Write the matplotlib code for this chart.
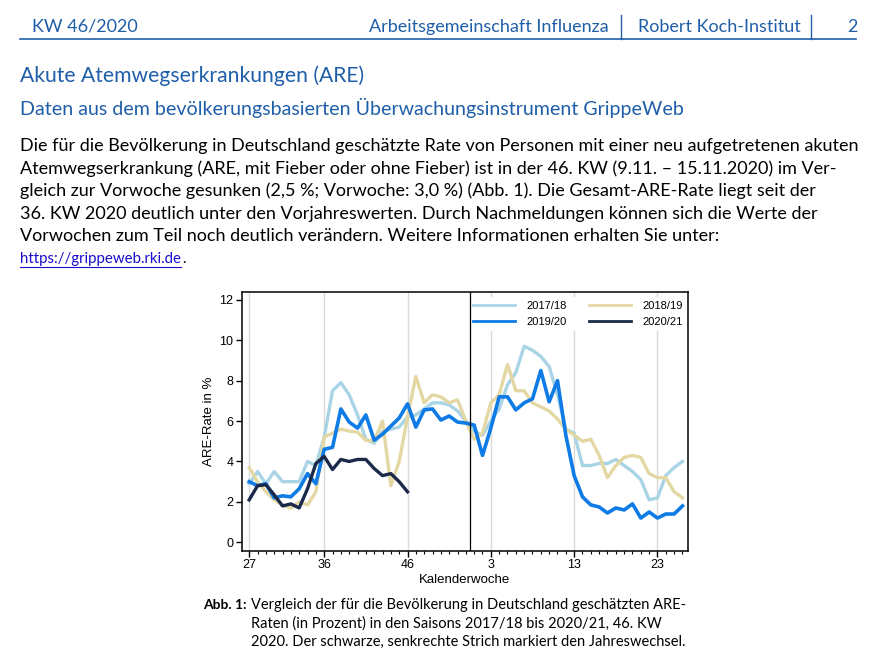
import numpy as np
import matplotlib.pyplot as plt
from matplotlib.ticker import FixedLocator, MultipleLocator

# Kalenderwochen 27 .. 53, 1 .. 26
weeks = list(range(27, 54)) + list(range(1, 27))
tick_weeks = [27, 36, 46, 3, 13, 23]

s1718 = [2.9, 3.5, 2.9, 3.5, 3.0, 3.0, 3.0, 4.0, 3.8, 5.2, 7.5, 7.9, 7.3, 6.3, 5.1,
         4.9, 5.5, 5.6, 5.7, 6.2, 6.3, 6.6, 6.9, 6.9, 6.8, 6.5, 6.0, 5.5, 5.3, 6.0,
         6.6, 7.8, 8.4, 9.7, 9.5, 9.2, 8.7, 7.3, 5.6, 5.4, 3.8, 3.8, 3.9, 3.9, 4.1,
         3.8, 3.5, 3.1, 2.1, 2.2, 3.3, 3.7, 4.0]
s1819 = [3.7, 3.0, 2.5, 2.1, 1.85, 1.7, 2.0, 1.85, 2.5, 5.2, 5.4, 5.6, 5.5, 5.45, 5.05,
         5.0, 6.0, 2.8, 4.0, 6.2, 8.2, 6.9, 7.3, 7.2, 6.9, 7.05, 6.0, 5.1, 5.4, 6.9,
         7.3, 8.8, 7.5, 7.5, 6.9, 6.7, 6.5, 6.1, 5.6, 5.3, 5.0, 5.1, 4.3, 3.2, 3.8,
         4.2, 4.3, 4.2, 3.4, 3.2, 3.2, 2.5, 2.2]
s1920 = [3.0, 2.8, 2.9, 2.2, 2.3, 2.25, 2.65, 3.4, 2.9, 4.6, 4.7, 6.6, 5.95, 5.65, 6.3,
         5.05, 5.35, 5.75, 6.15, 6.85, 5.7, 6.55, 6.6, 6.05, 6.25, 5.95, 5.9, 5.8, 4.3, 5.65,
         7.2, 7.2, 6.55, 6.9, 7.1, 8.5, 6.95, 8.0, 5.3, 3.3, 2.25, 1.85, 1.75, 1.45, 1.7,
         1.6, 1.9, 1.2, 1.5, 1.2, 1.4, 1.4, 1.8]
s2021 = [2.1, 2.8, 2.85, 2.35, 1.8, 1.9, 1.7, 2.65, 3.9, 4.25, 3.6, 4.1, 4.0, 4.1, 4.1,
         3.65, 3.3, 3.4, 3.0, 2.5]

W, H = 881, 667
fig = plt.figure(figsize=(W / 100, H / 100), dpi=100)

def fx(x):
    return x / W

def fy(y):
    return 1 - y / H

blue_txt = '#1f5ea8'
doc_font = 'Lato'

# Kopfzeile
fig.text(fx(32), fy(27), 'KW 46/2020', color=blue_txt, fontsize=13, family=doc_font, va='center')
fig.text(fx(609), fy(27), 'Arbeitsgemeinschaft Influenza', color=blue_txt, fontsize=13,
         family=doc_font, va='center', ha='right')
fig.text(fx(801), fy(27), 'Robert Koch-Institut', color=blue_txt, fontsize=13,
         family=doc_font, va='center', ha='right')
fig.text(fx(858), fy(27), '2', color=blue_txt, fontsize=13, family=doc_font, va='center', ha='right')
fig.add_artist(plt.Line2D([fx(20), fx(856)], [fy(38.5), fy(38.5)], color=blue_txt, lw=1.2))
for xb in [620.5, 810.5]:
    fig.add_artist(plt.Line2D([fx(xb), fx(xb)], [fy(15), fy(38.5)], color=blue_txt, lw=1.0))

fig.text(fx(20), fy(76), 'Akute Atemwegserkrankungen (ARE)', color=blue_txt, fontsize=15.2,
         family=doc_font, va='center')
fig.text(fx(20), fy(108), 'Daten aus dem bevölkerungsbasierten Überwachungsinstrument GrippeWeb',
         color=blue_txt, fontsize=14.15, family=doc_font, va='center')

body = [
    'Die für die Bevölkerung in Deutschland geschätzte Rate von Personen mit einer neu aufgetretenen akuten',
    'Atemwegserkrankung (ARE, mit Fieber oder ohne Fieber) ist in der 46. KW (9.11. – 15.11.2020) im Ver-',
    'gleich zur Vorwoche gesunken (2,5 %; Vorwoche: 3,0 %) (Abb. 1). Die Gesamt-ARE-Rate liegt seit der',
    '36. KW 2020 deutlich unter den Vorjahreswerten. Durch Nachmeldungen können sich die Werte der',
    'Vorwochen zum Teil noch deutlich verändern. Weitere Informationen erhalten Sie unter:',
]
for k, line in enumerate(body):
    fig.text(fx(20), fy(146 + k * 22.6), line, color='black', fontsize=13, family=doc_font, va='center')
fig.text(fx(20), fy(259), 'https://grippeweb.rki.de', color='#1a0dcc', fontsize=10.8,
         family=doc_font, va='center')
fig.add_artist(plt.Line2D([fx(20), fx(181)], [fy(267), fy(267)], color='#1a0dcc', lw=0.8))
fig.text(fx(182.5), fy(259), '.', color='black', fontsize=10.8, family=doc_font, va='center')

# Diagramm
ax = fig.add_axes([fx(241.7), fy(551), fx(688.3) - fx(241.7), (551 - 291.7) / H])
x = np.arange(len(weeks))
c1718, c1819, c1920, c2021 = '#a9d4e6', '#e3d8a4', '#0f7be6', '#1b2a4b'
l1, = ax.plot(x, s1718, color=c1718, lw=2.4, label='2017/18')
l2, = ax.plot(x, s1819, color=c1819, lw=2.4, label='2018/19')
l3, = ax.plot(x, s1920, color=c1920, lw=2.6, label='2019/20')
l4, = ax.plot(x[:len(s2021)], s2021, color=c2021, lw=2.4, label='2020/21')

tick_pos = [weeks.index(w) for w in tick_weeks]
ax.xaxis.set_major_locator(FixedLocator(tick_pos))
ax.set_xticklabels([str(w) for w in tick_weeks])
ax.xaxis.set_minor_locator(MultipleLocator(1))
ax.set_yticks(range(0, 13, 2))
ax.set_xlim(-0.9, 52.7)
ax.set_ylim(-0.43, 12.4)
for p in tick_pos:
    ax.axvline(p, color='#d9d9d9', lw=1.0, zorder=0)
# Jahreswechsel
ax.axvline(26.5, color='black', lw=0.9, zorder=6)

for s in ax.spines.values():
    s.set_linewidth(1.1)
ax.tick_params(axis='both', which='major', labelsize=9, length=4, width=1.0, pad=2)
ax.tick_params(axis='x', which='minor', length=2.5, width=0.8)
for t in ax.get_xticklabels() + ax.get_yticklabels():
    t.set_family('Liberation Sans')
ax.set_ylabel('ARE-Rate in %', fontsize=9.5, family='Liberation Sans', labelpad=3)
ax.set_xlabel('Kalenderwoche', fontsize=9.5, family='Liberation Sans', labelpad=2)

leg = ax.legend(handles=[l1, l3, l2, l4], ncol=2, loc='upper right',
                bbox_to_anchor=(1.0, 0.985),
                prop={'family': 'Liberation Sans', 'size': 8}, handlelength=3.8,
                columnspacing=2.0, handletextpad=1.0, borderaxespad=0.1,
                frameon=True, fancybox=False, edgecolor='none', facecolor='white', framealpha=1)
for h in leg.get_lines():
    h.set_linewidth(2.0)

# Bildunterschrift
fig.text(fx(203), fy(605), 'Abb. 1:', color='black', fontsize=10, family=doc_font,
         weight='bold', va='center')
caption = [
    'Vergleich der für die Bevölkerung in Deutschland geschätzten ARE-',
    'Raten (in Prozent) in den Saisons 2017/18 bis 2020/21, 46. KW',
    '2020. Der schwarze, senkrechte Strich markiert den Jahreswechsel.',
]
for k, line in enumerate(caption):
    fig.text(fx(251), fy(605 + k * 18.5), line, color='black', fontsize=10.5, family=doc_font, va='center')

fig.savefig('out.png', dpi=100)
